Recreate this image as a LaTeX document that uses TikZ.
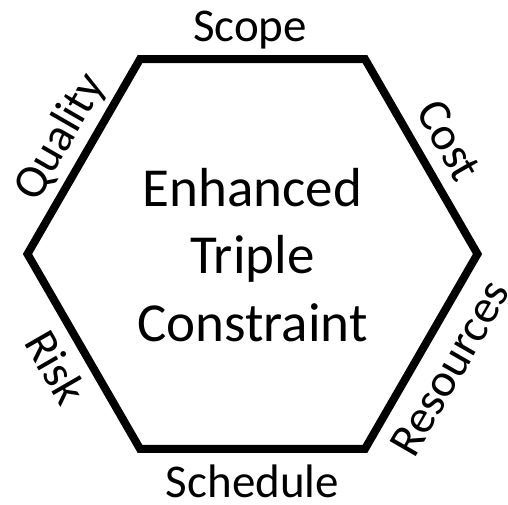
\documentclass[tikz,border=0pt]{standalone}
\usepackage{fontspec}
\setmainfont{Carlito}
\usetikzlibrary{calc}
\begin{document}
\begin{tikzpicture}[x=1pt,y=1pt,
  edge/.style={line width=8pt,line join=miter},
  sidelabel/.style={font=\fontsize{47}{56}\selectfont,inner sep=0pt,anchor=base},
  title/.style={font=\fontsize{55}{67.5}\selectfont,align=center,inner sep=0pt}]
\useasboundingbox (0,0) rectangle (508,504);
% regular hexagon, flat top and bottom
\coordinate (c) at (252.5,250);
\foreach \i/\a in {1/0,2/60,3/120,4/180,5/240,6/300}
  \coordinate (v\i) at ($(c)+(\a:225)$);
\draw[edge] (v1)--(v2)--(v3)--(v4)--(v5)--(v6)--cycle;
% labels on the six sides
\node[sidelabel] (scope) at (250,462) {Scope};
\node[sidelabel,rotate=-60] (cost) at (436,356) {Cost};
\node[sidelabel,rotate=60] (quality) at (71.5,360.3) {Quality};
\node[sidelabel,rotate=-60] (risk) at (42.2,128.5) {Risk};
\node[sidelabel] (schedule) at (252.5,7) {Schedule};
\node[sidelabel,rotate=60] (resources) at (462.8,128.5) {Resources};
% central caption
\node[title] (caption) at (252.5,249) {Enhanced\\Triple\\Constraint};
\end{tikzpicture}
\end{document}
